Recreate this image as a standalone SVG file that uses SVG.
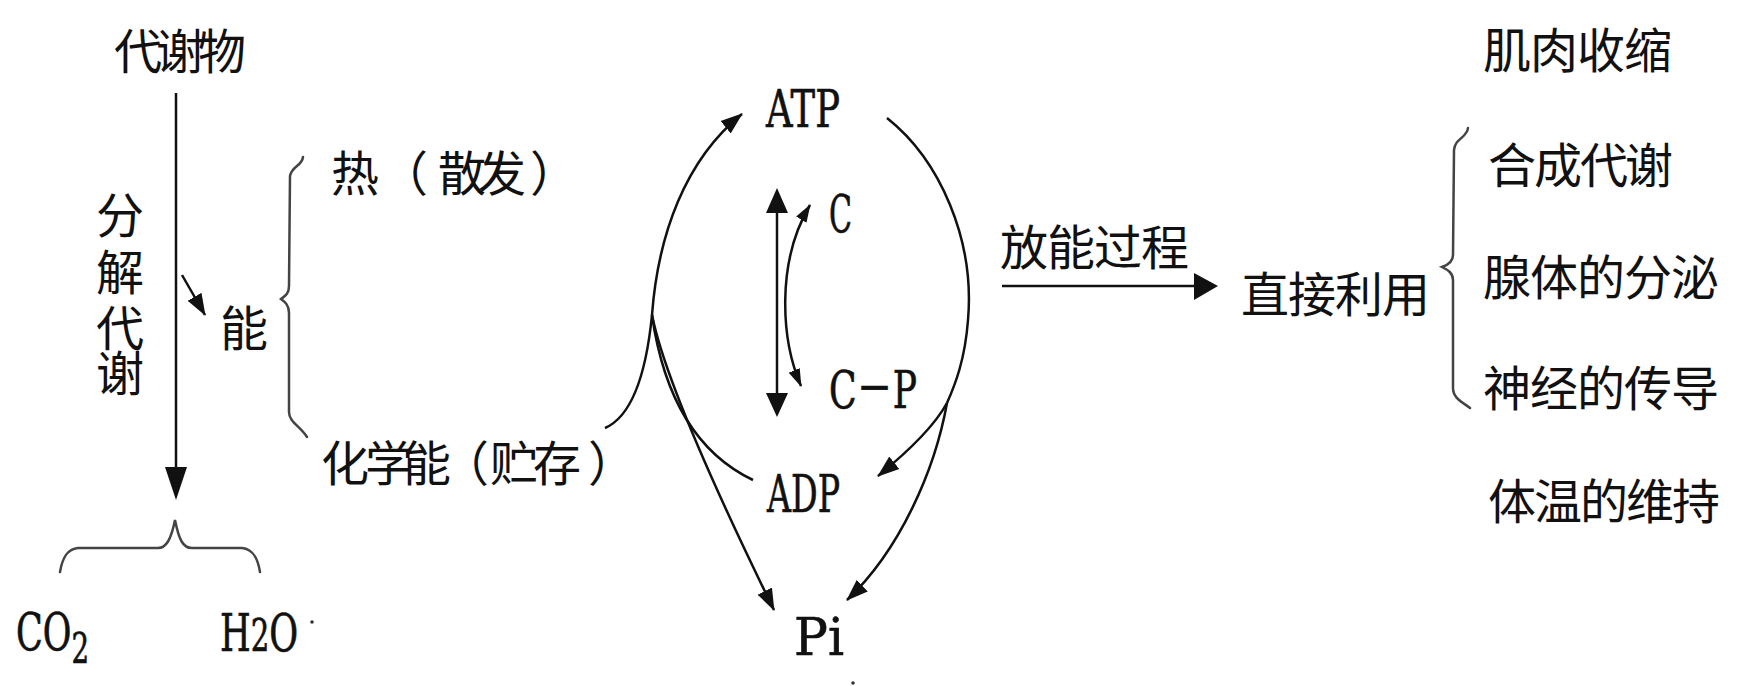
<svg xmlns="http://www.w3.org/2000/svg" width="1739" height="686" viewBox="0 0 1739 686">
<style>
.cjk{font-family:"Noto Sans CJK SC","Noto Sans",sans-serif;font-size:48px;fill:#111}
.lat{font-family:"DejaVu Serif","Liberation Serif","Noto Sans CJK SC",serif;font-size:53px;fill:#111;stroke:#111;stroke-width:0.7}
.ln{fill:none;stroke:#111;stroke-width:2.5}
.br{fill:none;stroke:#444;stroke-width:2.5;stroke-linecap:round}
.head{fill:#111}
</style>
<defs>
<marker id="ah" markerUnits="userSpaceOnUse" markerWidth="24" markerHeight="18" refX="21" refY="9" orient="auto">
<path d="M0,1 L22,9 L0,17 z" fill="#111"/>
</marker>
<marker id="ahs" markerUnits="userSpaceOnUse" markerWidth="20" markerHeight="14" refX="17" refY="7" orient="auto-start-reverse">
<path d="M0,1 L18,7 L0,13 z" fill="#111"/>
</marker>
</defs>
<rect width="1739" height="686" fill="#fff"/>

<g id="connectors">
<!-- decomposition arrow -->
<line class="ln" x1="176" y1="93" x2="176" y2="470" stroke-width="3"/>
<polygon class="head" points="165,467 187,467 176,500"/>
<!-- small arrow to 能 -->
<line class="ln" x1="182" y1="275" x2="205" y2="315" marker-end="url(#ah)"/>
<!-- brace for 热 / 化学能 -->
<path class="br" d="M303,157 C302,166 292,166 290,176 L289,286 C289,294 285,296 281,299 C285,302 289,305 289,313 L289,412 C289,422 300,426 307,437"/>
<!-- bottom brace CO2 / H2O -->
<path class="br" d="M60,572 C62,560 66,549 78,548 L158,548 C166,548 171,540 175,520 C179,540 183,548 192,548 L242,548 C254,549 258,560 260,572"/>
<!-- right brace -->
<path class="br" d="M1468,128 C1467,138 1455,138 1454,150 L1453,255 C1453,262 1448,265 1442,267 C1448,270 1453,273 1453,280 L1453,388 C1453,398 1462,402 1470,408"/>
<!-- 放能过程 arrow -->
<line class="ln" x1="1002" y1="286" x2="1198" y2="286" stroke-width="3.5"/>
<polygon class="head" points="1194,273 1218,286 1194,300"/>
<!-- cycle: chemical energy -> junction -> ATP -->
<path class="ln" d="M605,428 C628,418 645,385 652,315"/>
<path class="ln" d="M652,315 C658,235 685,160 742,114" marker-end="url(#ah)"/>
<!-- junction -> ADP, junction -> Pi -->
<path class="ln" d="M652,315 C662,385 690,450 753,480"/>
<path class="ln" d="M652,315 C665,380 720,500 774,610" marker-end="url(#ah)"/>
<!-- ATP -> right arc -> ADP / Pi -->
<path class="ln" d="M887,118 C940,160 975,240 968,320 C965,360 955,385 947,403"/>
<path class="ln" d="M947,403 C935,425 910,450 878,476" marker-end="url(#ah)"/>
<path class="ln" d="M947,403 C935,470 900,550 847,600" marker-end="url(#ah)"/>
<!-- vertical double arrow -->
<line class="ln" x1="777" y1="208" x2="777" y2="398" stroke-width="3"/>
<polygon class="head" points="766,213 788,213 777,188"/>
<polygon class="head" points="766,393 788,393 777,417"/>
<!-- C <-> C-P curved arrow -->
<path class="ln" d="M801,386 C781,340 776,262 810,205" marker-start="url(#ahs)" marker-end="url(#ahs)"/>
</g>

<g id="n-metabolite"><text class="cjk" x="114 156 198" y="69">代谢物</text></g>
<g id="n-catabolism"><text class="cjk" x="96 96 96 96" y="233 290 346 391">分解代谢</text></g>
<g id="n-energy"><text class="cjk" x="220" y="346">能</text></g>
<g id="n-heat"><text class="cjk" x="331 380 438 478 530" y="191">热（散发）</text></g>
<g id="n-chem"><text class="cjk" x="321 365 403 441 490 533 588" y="481">化学能（贮存）</text></g>
<g id="n-co2"><text class="lat" transform="translate(16 650) scale(0.66 1)" x="0" y="0">CO<tspan dy="13" font-size="42">2</tspan></text></g>
<g id="n-h2o"><text class="lat" transform="translate(220 651) scale(0.665 1)" x="0" y="0">H<tspan font-size="44">2</tspan>O</text>
<circle cx="312" cy="622" r="1.8" fill="#333"/>
</g>
<g id="n-atp"><text class="lat" x="766" y="127" textLength="74" lengthAdjust="spacingAndGlyphs">ATP</text></g>
<g id="n-c"><text class="lat" x="829" y="232" textLength="23" font-size="51" lengthAdjust="spacingAndGlyphs">C</text></g>
<g id="n-cp"><text class="lat" x="829" y="408" font-size="45" textLength="88" lengthAdjust="spacingAndGlyphs">C－P</text></g>
<g id="n-adp"><text class="lat" x="767" y="512" textLength="73" lengthAdjust="spacingAndGlyphs">ADP</text></g>
<g id="n-pi"><text class="lat" x="794" y="655" textLength="50" lengthAdjust="spacingAndGlyphs">Pi</text>
<circle cx="853" cy="683" r="1.8" fill="#333"/></g>
<g id="n-release"><text class="cjk" x="1000 1047 1094 1141" y="265">放能过程</text></g>
<g id="n-direct"><text class="cjk" x="1241 1288 1335 1382" y="312">直接利用</text></g>
<g id="n-muscle"><text class="cjk" x="1483 1530 1577 1624" y="68">肌肉收缩</text></g>
<g id="n-anabolism"><text class="cjk" x="1488 1534 1580 1625" y="183">合成代谢</text></g>
<g id="n-gland"><text class="cjk" x="1483 1530 1577 1624 1671" y="295">腺体的分泌</text></g>
<g id="n-nerve"><text class="cjk" x="1483 1530 1577 1624 1671" y="406">神经的传导</text></g>
<g id="n-temp"><text class="cjk" x="1488 1534 1580 1626 1672" y="519">体温的维持</text></g>
</svg>
